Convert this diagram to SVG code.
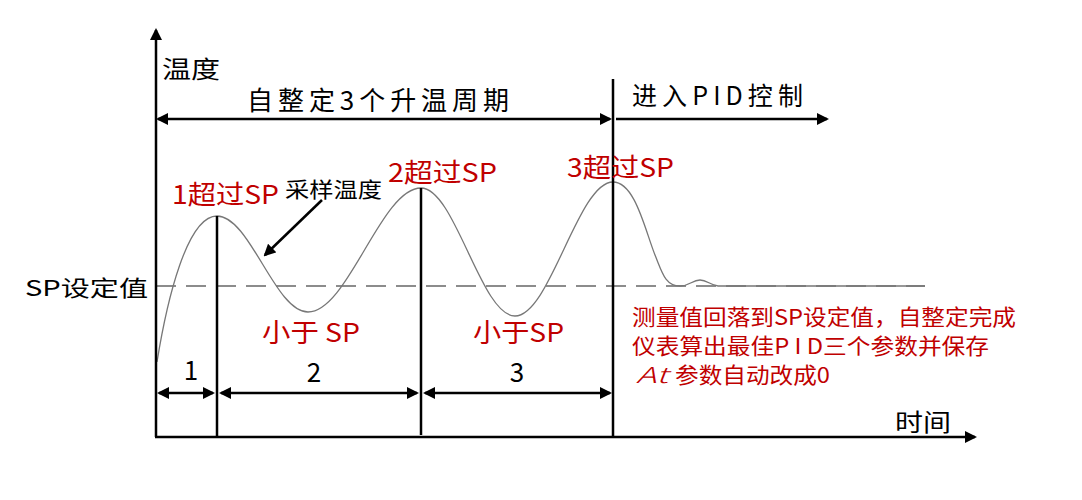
<svg xmlns="http://www.w3.org/2000/svg" width="1082" height="500" viewBox="0 0 1082 500">
<style>
text{font-family:"Noto Sans CJK SC","Noto Sans",sans-serif;}
.blk{fill:#000;}
.red{fill:#c00000;}
.ax{stroke:#000;stroke-width:2.5;fill:none;}
.dim{stroke:#000;stroke-width:2.5;fill:none;}
.sp{stroke:#8c8c8c;stroke-width:2;stroke-dasharray:20 10;fill:none;}
.curve{stroke:#777;stroke-width:1.3;fill:none;}
</style>
<defs>
<marker id="ah" viewBox="0 0 12 12" refX="10" refY="6" markerWidth="12" markerHeight="12" markerUnits="userSpaceOnUse" orient="auto-start-reverse">
<path d="M0,0 L12,6 L0,12 z" fill="#000"/>
</marker>
</defs>
<rect width="1082" height="500" fill="#fff"/>
<g id="connectors">
<line class="sp" x1="156" y1="286" x2="925" y2="286"/>
<path id="temp-curve" class="curve" d="M157,362 C167,300 187,216 217,216 C250,216 275,312 308,312 C348,312 381,188 421,188 C455,188 481,316 515,316 C550,316 578,182 613,182 C635,182 645,230 655,255 C662,272 665,286 680,286 C690,286 692,280 700,280 C707,280 710,285 718,286 L925,286"/>
<line class="ax" x1="156" y1="437" x2="156" y2="30" marker-end="url(#ah)"/>
<line class="ax" x1="155" y1="437" x2="975" y2="437" marker-end="url(#ah)"/>
<line class="ax" x1="217" y1="216" x2="217" y2="437"/>
<line class="ax" x1="421" y1="188" x2="421" y2="435"/>
<line class="ax" x1="613" y1="79" x2="613" y2="437"/>
<line class="dim" x1="158" y1="119" x2="610" y2="119" marker-start="url(#ah)" marker-end="url(#ah)"/>
<line class="dim" x1="616" y1="119" x2="827" y2="119" marker-end="url(#ah)"/>
<line class="dim" x1="159" y1="393" x2="213" y2="393" marker-start="url(#ah)" marker-end="url(#ah)"/>
<line class="dim" x1="221" y1="393" x2="417" y2="393" marker-start="url(#ah)" marker-end="url(#ah)"/>
<line class="dim" x1="425" y1="393" x2="610" y2="393" marker-start="url(#ah)" marker-end="url(#ah)"/>
<line class="dim" x1="322" y1="200" x2="265" y2="255" stroke-width="2" marker-end="url(#ah)"/>
</g>
<g id="label-temp"><text class="blk" x="162" y="78" font-size="24" textLength="58" lengthAdjust="spacingAndGlyphs">温度</text></g>
<g id="label-time"><text class="blk" x="895" y="431" font-size="24" textLength="56" lengthAdjust="spacingAndGlyphs">时间</text></g>
<g id="label-sp"><text class="blk" x="25" y="296" font-size="22" textLength="123" lengthAdjust="spacingAndGlyphs">SP设定值</text></g>
<g id="label-auto"><text class="blk" x="247" y="110" font-size="26" textLength="262" lengthAdjust="spacing">自整定3个升温周期</text></g>
<g id="label-pid"><text class="blk" x="632" y="105" font-size="25" textLength="171" lengthAdjust="spacing">进入PID控制</text></g>
<g id="label-over1"><text class="red" x="172" y="204" font-size="26" textLength="107" lengthAdjust="spacingAndGlyphs">1超过SP</text></g>
<g id="label-sample"><text class="blk" x="285" y="197" font-size="21" textLength="97" lengthAdjust="spacingAndGlyphs">采样温度</text></g>
<g id="label-over2"><text class="red" x="388" y="182" font-size="26" textLength="109" lengthAdjust="spacingAndGlyphs">2超过SP</text></g>
<g id="label-over3"><text class="red" x="567" y="177" font-size="26" textLength="107" lengthAdjust="spacingAndGlyphs">3超过SP</text></g>
<g id="label-under2"><text class="red" x="262" y="342" font-size="26" textLength="98" lengthAdjust="spacingAndGlyphs">小于 SP</text></g>
<g id="label-under3"><text class="red" x="473" y="342" font-size="26" textLength="91" lengthAdjust="spacingAndGlyphs">小于SP</text></g>
<g id="label-n1"><text class="blk" x="191" y="380" font-size="26" text-anchor="middle">1</text></g>
<g id="label-n2"><text class="blk" x="314" y="382" font-size="26" text-anchor="middle">2</text></g>
<g id="label-n3"><text class="blk" x="517" y="382" font-size="26" text-anchor="middle">3</text></g>
<g id="note">
<text class="red" x="632" y="325" font-size="21.5" textLength="384" lengthAdjust="spacingAndGlyphs">测量值回落到SP设定值，自整定完成</text>
<text class="red" x="632" y="354" font-size="21.5" textLength="357" lengthAdjust="spacingAndGlyphs">仪表算出最佳P I D三个参数并保存</text>
<text class="red" x="636" y="383" font-size="22" font-style="italic" font-family="DejaVu Sans Mono, monospace" font-weight="300" textLength="32" lengthAdjust="spacingAndGlyphs">At</text>
<text class="red" x="675" y="383" font-size="21.5" textLength="155" lengthAdjust="spacingAndGlyphs">参数自动改成0</text>
</g>
</svg>
